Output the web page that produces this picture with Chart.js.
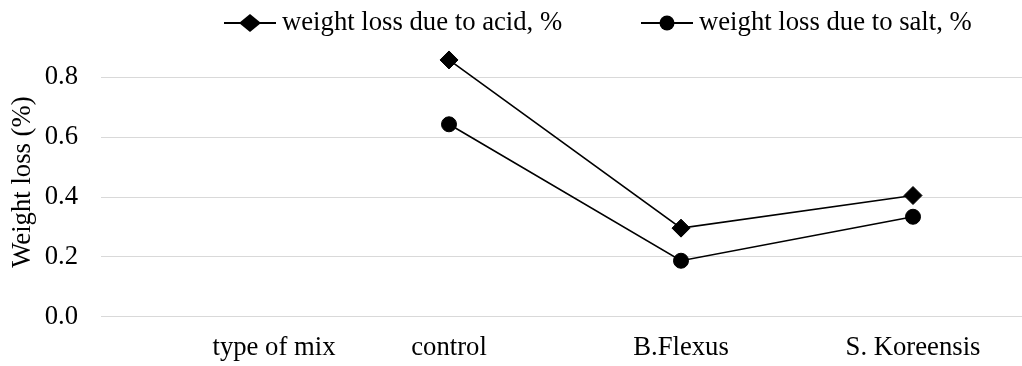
<!DOCTYPE html>
<html>
<head>
<meta charset="utf-8">
<script src="https://cdn.jsdelivr.net/npm/chart.js@4/dist/chart.umd.min.js"></script>
<style>
  html, body { margin: 0; padding: 0; background: #fff; overflow: hidden; width: 1022px; height: 366px; }
  #wrap { position: relative; width: 1022px; height: 366px; overflow: hidden; }
  #cwrap { position: absolute; left: 0; top: 0; width: 1040px; height: 366px; }
  #c { display: block; }
  #legend { position: absolute; left: 0; top: 0; width: 1022px; height: 46px; font-family: 'Liberation Serif', 'Times New Roman', serif; font-size: 26.7px; color: #000; }
  .lg-item { position: absolute; top: 0; height: 46px; }
  .lg-item svg { position: absolute; left: 0; top: 13.3px; }
  .lg-item span { position: absolute; left: 58px; top: 6px; line-height: 30px; white-space: nowrap; }
</style>
</head>
<body>
<div id="wrap">
  <div id="cwrap"><canvas id="c" width="1030" height="366"></canvas></div>
  <div id="legend"></div>
</div>
<script>
const categories = ['type of mix', 'control', 'B.Flexus', 'S. Koreensis'];
const acidLoss = [null, 0.858, 0.296, 0.405];
const saltLoss = [null, 0.643, 0.187, 0.334];
const yTickValues = [0, 0.2, 0.4, 0.6, 0.8];
const seriesLabels = ['weight loss due to acid, %', 'weight loss due to salt, %'];
const yTitle = 'Weight loss (%)';

const FONT = "'Liberation Serif', 'Times New Roman', serif";
const FS = 26.7;

Chart.defaults.font.family = FONT;
Chart.defaults.font.size = FS;
Chart.defaults.color = '#000';

const firstLabelPlugin = {
  id: 'firstLabel',
  afterDraw(chart) {
    const xs = chart.scales.x;
    const items = xs.getLabelItems();
    const ref = items.find(it => it.label !== '');
    if (!ref) return;
    const ctx = chart.ctx;
    ctx.save();
    ctx.font = `${FS}px ${FONT}`;
    ctx.fillStyle = '#000';
    ctx.textAlign = 'center';
    ctx.textBaseline = ref.options.textBaseline || 'middle';
    const y = ref.options.translation[1] + (ref.textOffset || 0);
    ctx.fillText(categories[0], xs.getPixelForValue(0) + 57, y);
    ctx.restore();
  }
};

const chart = new Chart(document.getElementById('c'), {
  type: 'line',
  data: {
    labels: categories,
    datasets: [
      { label: seriesLabels[0], data: acidLoss, borderColor: '#000', backgroundColor: '#000', borderWidth: 1.6,
        pointStyle: 'rectRot', pointRadius: 9, pointHoverRadius: 9, pointBorderWidth: 1, tension: 0 },
      { label: seriesLabels[1], data: saltLoss, borderColor: '#000', backgroundColor: '#000', borderWidth: 1.6,
        pointStyle: 'circle', pointRadius: 7.5, pointHoverRadius: 7.5, pointBorderWidth: 1, tension: 0 }
    ]
  },
  options: {
    responsive: false, animation: false, devicePixelRatio: 1,
    layout: { autoPadding: false, padding: { top: 47.4, right: 1, left: 0, bottom: 0 } },
    plugins: { legend: { display: false }, tooltip: { enabled: false } },
    scales: {
      x: {
        type: 'category', offset: true,
        grid: { display: false, drawTicks: false }, border: { display: false },
        ticks: { padding: 15, autoSkip: false, maxRotation: 0, callback: (v, i) => (i === 0 ? '' : categories[i]) },
        afterFit(scale) { scale.height = 366 - 316.7; scale.paddingLeft = 0; scale.paddingRight = 0; }
      },
      y: {
        min: 0, max: 0.9,
        grid: { color: '#d9d9d9', lineWidth: 1, drawTicks: false }, border: { display: false },
        ticks: { padding: 23, callback: v => Number(v).toFixed(1) },
        afterBuildTicks(scale) { scale.ticks = yTickValues.map(v => ({ value: v })); },
        title: { display: true, text: yTitle, padding: { top: 7, bottom: 0 }, font: { size: FS } },
        afterFit(scale) { scale.width = 101; }
      }
    }
  },
  plugins: [firstLabelPlugin]
});

// HTML legend built from the dataset labels
const legendLefts = [224, 641];
const legend = document.getElementById('legend');
chart.data.datasets.forEach((ds, i) => {
  const item = document.createElement('div');
  item.className = 'lg-item';
  item.style.left = legendLefts[i] + 'px';
  const marker = ds.pointStyle === 'rectRot'
    ? '<polygon points="26,1 37,10 26,19 15,10" fill="#000"/>'
    : '<circle cx="26" cy="10" r="7.5" fill="#000"/>';
  item.innerHTML = '<svg width="52" height="20" viewBox="0 0 52 20"><line x1="0" y1="10" x2="52" y2="10" stroke="#000" stroke-width="1.8"/>' + marker + '</svg>';
  const sp = document.createElement('span');
  sp.textContent = ds.label;
  item.appendChild(sp);
  legend.appendChild(item);
});
</script>
</body>
</html>
